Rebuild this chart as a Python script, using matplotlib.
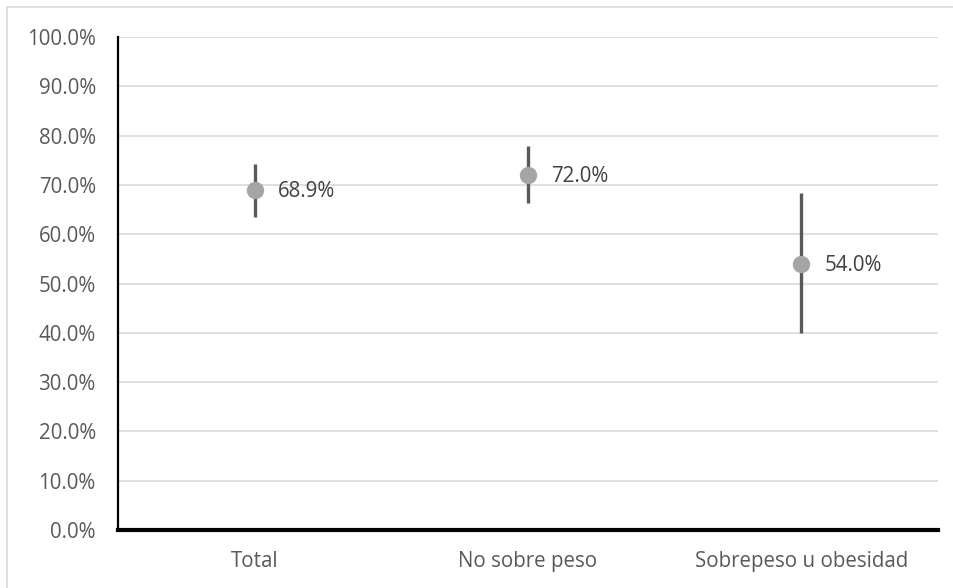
import matplotlib
matplotlib.use("Agg")
import matplotlib.pyplot as plt
from matplotlib.patches import Rectangle

categories = ["Total", "No sobre peso", "Sobrepeso u obesidad"]
values = [68.9, 72.0, 54.0]
lower = [63.5, 66.4, 39.9]
upper = [74.2, 77.9, 68.3]
yticks = [0, 10, 20, 30, 40, 50, 60, 70, 80, 90, 100]

plt.rcParams["font.family"] = ["Open Sans", "DejaVu Sans"]
text_color = "#595959"
fs = 14.8

fig = plt.figure(figsize=(9.54, 5.88), dpi=100)
W, H = 954, 588
ax = fig.add_axes([118 / W, 1 - 530 / H, (938 - 118) / W, (530 - 37) / H])

# outer chart frame
fig.patches.append(Rectangle((7 / W, -0.1), 1.2, (581 / H) + 0.1,
                             transform=fig.transFigure, fill=False,
                             edgecolor="#D9D9D9", linewidth=1.2))

x = list(range(len(categories)))
err_lo = [v - l for v, l in zip(values, lower)]
err_hi = [u - v for v, u in zip(values, upper)]
ax.errorbar(x, values, yerr=[err_lo, err_hi], fmt="none",
            ecolor="#595959", elinewidth=2.4, capsize=0, zorder=3)
ax.plot(x, values, "o", color="#A5A5A5", markersize=11.5, zorder=4)

for xi, v in zip(x, values):
    ax.annotate(f"{v:.1f}%", (xi, v), xytext=(17, -1), textcoords="offset points",
                va="center", ha="left", fontsize=fs, color="#404040")

ax.set_xlim(-0.5, 2.5)
ax.set_ylim(0, 100)
ax.set_yticks(yticks)
ax.set_yticklabels([f"{t:.1f}%" for t in yticks])
ax.set_xticks(x)
ax.set_xticklabels(categories)
ax.tick_params(axis="both", length=0, labelsize=fs, labelcolor=text_color)
ax.tick_params(axis="y", pad=16)
ax.tick_params(axis="x", pad=15)

ax.grid(axis="y", color="#D9D9D9", linewidth=1.2)
ax.set_axisbelow(True)
for s in ["top", "right"]:
    ax.spines[s].set_visible(False)
ax.spines["left"].set_color("black")
ax.spines["left"].set_linewidth(1.6)
ax.spines["bottom"].set_color("black")
ax.spines["bottom"].set_linewidth(3)

fig.savefig("out.png", dpi=100)
